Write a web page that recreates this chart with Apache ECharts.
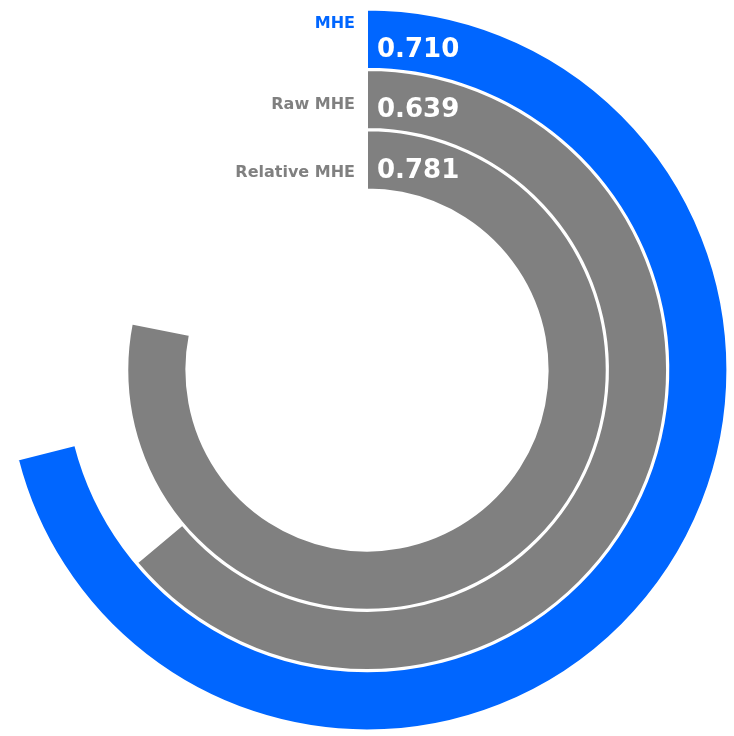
<!DOCTYPE html>
<html><head><meta charset="utf-8">
<script src="https://cdn.jsdelivr.net/npm/echarts@6/dist/echarts.min.js"></script>
<style>html,body{margin:0;padding:0;background:#fff}#c{width:734px;height:736px}</style>
</head><body><div id="c"></div>
<script>
// inner to outer
var categories = ['Relative MHE', 'Raw MHE', 'MHE'];
var values = [0.781, 0.639, 0.710];
var barColors = ['#808080', '#808080', '#0066ff'];
var labelStyles = ['rel', 'raw', 'mhe'];

var chart = echarts.init(document.getElementById('c'));
chart.setOption({
  animation: false,
  polar: { center: [367, 370], radius: [180, 361] },
  angleAxis: { type: 'value', min: 0, max: 1, startAngle: 90, clockwise: true, show: false },
  radiusAxis: {
    type: 'category', data: categories,
    axisLine: { show: false }, axisTick: { show: false }, splitLine: { show: false },
    axisLabel: {
      show: true, interval: 0, hideOverlap: false, margin: 12,
      fontFamily: 'DejaVu Sans', fontWeight: 'bold', fontSize: 16,
      formatter: function (v) {
        return '{' + labelStyles[categories.indexOf(v)] + '|' + v + '}';
      },
      rich: {
        mhe: { color: '#0066ff', fontFamily: 'DejaVu Sans', fontWeight: 'bold', fontSize: 16, padding: [0, 0, 30, 0] },
        raw: { color: '#808080', fontFamily: 'DejaVu Sans', fontWeight: 'bold', fontSize: 16, padding: [10, 0, 0, 0] },
        rel: { color: '#808080', fontFamily: 'DejaVu Sans', fontWeight: 'bold', fontSize: 16, padding: [26, 0, 0, 0] }
      }
    }
  },
  series: [{
    type: 'bar', coordinateSystem: 'polar', barCategoryGap: '2%',
    data: values.map(function (v, i) {
      return { value: v, itemStyle: { color: barColors[i] } };
    }),
    itemStyle: { borderColor: '#fff', borderWidth: 2 },
    label: {
      show: true, position: 'insideStart', rotate: 0, offset: [5, 11],
      color: '#fff', fontFamily: 'DejaVu Sans', fontWeight: 'bold', fontSize: 26,
      formatter: function (p) { return p.value.toFixed(3); }
    }
  }]
});
</script></body></html>
